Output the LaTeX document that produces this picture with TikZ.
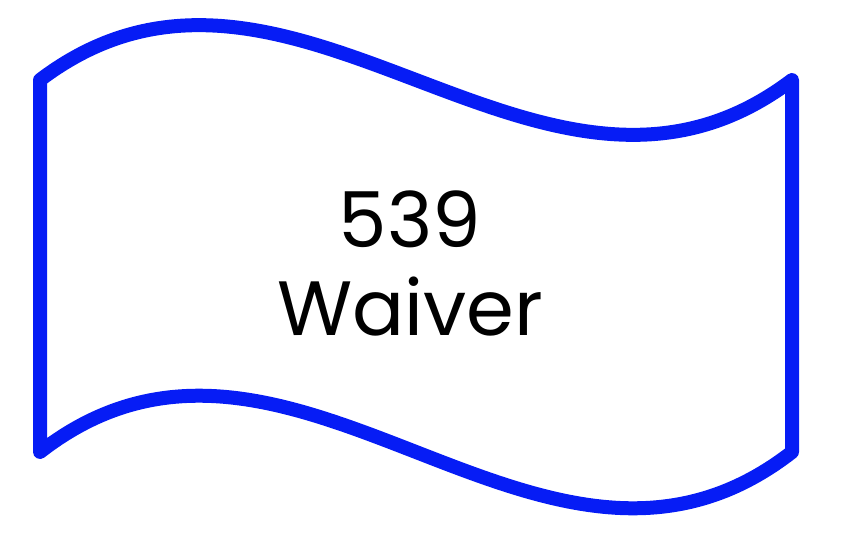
\documentclass[tikz,border=0pt]{standalone}
\usepackage{fontspec}
\setmainfont{Poppins}
\usepackage{xcolor}
\definecolor{flagblue}{RGB}{6,28,245}
\tikzset{
  flagline/.style={draw=flagblue,line width=14pt,line join=round,line cap=round},
  flagtext/.style={align=center,font=\fontsize{77}{88}\selectfont,text=black}
}

\begin{document}
\begin{tikzpicture}[x=1pt,y=-1pt]
	\useasboundingbox (0,0) rectangle (868,546);
	\def\xl{40} \def\xr{792} \def\yt{80} \def\yb{452}
	\coordinate (tl) at (\xl,\yt); \coordinate (tr) at (\xr,\yt);
	\coordinate (bl) at (\xl,\yb); \coordinate (br) at (\xr,\yb);
	\draw[flagline] (tl) .. controls (290.7,\yt-190) and (541.3,\yt+190) .. (tr)
		-- (br) .. controls (541.3,\yb+195) and (290.7,\yb-195) .. (bl) -- cycle;
	\node[flagtext] (label) at (410,263) {539\\Waiver};
\end{tikzpicture}
\end{document}
